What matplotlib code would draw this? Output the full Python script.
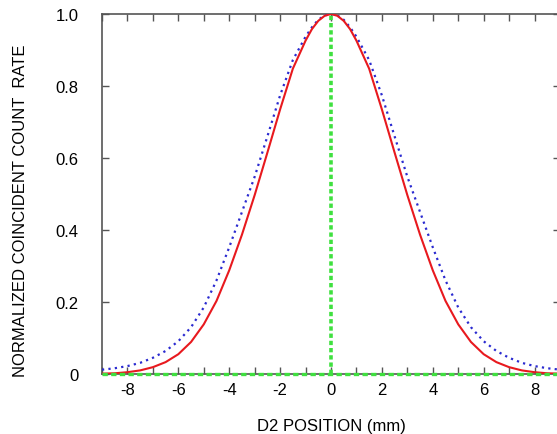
import matplotlib
matplotlib.use("Agg")
import matplotlib.pyplot as plt
from matplotlib.ticker import MultipleLocator

plt.rcParams["font.family"] = ["Liberation Sans", "DejaVu Sans"]

# D2 position (mm) and normalized coincidence rates
positions = [-9.0, -8.5, -8.0, -7.5, -7.0, -6.5, -6.0, -5.5, -5.0, -4.5,
             -4.0, -3.5, -3.0, -2.5, -2.0, -1.5, -1.0, -0.75, -0.5, -0.25,
             0.0, 0.25, 0.5, 0.75, 1.0, 1.5, 2.0, 2.5, 3.0, 3.5,
             4.0, 4.5, 5.0, 5.5, 6.0, 6.5, 7.0, 7.5, 8.0, 8.5, 9.0]
rate_red = [0.001, 0.002, 0.005, 0.010, 0.019, 0.033, 0.055, 0.089, 0.138, 0.203,
            0.288, 0.387, 0.497, 0.615, 0.735, 0.848, 0.926, 0.958, 0.981, 0.995,
            1.000, 0.995, 0.981, 0.958, 0.926, 0.848, 0.735, 0.615, 0.497, 0.387,
            0.288, 0.203, 0.138, 0.089, 0.055, 0.033, 0.019, 0.010, 0.005, 0.002, 0.001]
rate_blue = [0.012, 0.016, 0.022, 0.031, 0.045, 0.064, 0.091, 0.130, 0.185, 0.260,
             0.352, 0.450, 0.548, 0.660, 0.774, 0.872, 0.937, 0.963, 0.984, 0.996,
             1.000, 0.996, 0.984, 0.963, 0.937, 0.872, 0.774, 0.660, 0.548, 0.450,
             0.352, 0.260, 0.185, 0.130, 0.091, 0.064, 0.045, 0.031, 0.022, 0.016, 0.012]
center_x = [0.0, 0.0]
center_y = [0.0, 1.0]
base_x = [-9.0, 9.0]
base_y = [0.0, 0.0]

x_ticks = [-8, -6, -4, -2, 0, 2, 4, 6, 8]
y_ticks = [0, 0.2, 0.4, 0.6, 0.8, 1.0]
y_labels = ["0", "0.2", "0.4", "0.6", "0.8", "1.0"]

fig = plt.figure(figsize=(5.57, 4.35), dpi=100)
ax = fig.add_axes([102 / 557, 60 / 435, 458 / 557, 360 / 435])

ax.plot(positions, rate_blue, color="#2a2ad0", lw=1.6, ls=(0, (1, 1.9)), zorder=3)
ax.plot(positions, rate_red, color="#e8191e", lw=1.5, zorder=4)
ax.plot(center_x, center_y, color="#3fe03f", lw=2.6, ls=(0, (1.2, 0.8)),
        zorder=5, clip_on=False)
ax.plot(base_x, base_y, color="#3fe03f", lw=2.4, ls=(0, (1.6, 1.0)),
        zorder=5, clip_on=False)

ax.set_xlim(-9, 9)
ax.set_ylim(0, 1)
ax.set_xticks(x_ticks)
ax.set_xticklabels([str(t) for t in x_ticks])  # plain hyphen minus
ax.xaxis.set_minor_locator(MultipleLocator(1))
ax.set_yticks(y_ticks)
ax.set_yticklabels(y_labels)

spine_col = "#555555"
for s in ax.spines.values():
    s.set_color(spine_col)
    s.set_linewidth(1.2)

ax.tick_params(axis="both", which="both", direction="in", colors=spine_col,
               labelcolor="black", top=True, right=True, width=1.0)
ax.tick_params(axis="x", which="major", length=5, pad=6, labelsize=12)
ax.tick_params(axis="x", which="minor", length=5)
ax.tick_params(axis="y", which="major", length=5, pad=17, labelsize=12)

ax.set_xlabel("D2 POSITION (mm)", fontsize=12, labelpad=15)
ax.set_ylabel("NORMALIZED COINCIDENT COUNT  RATE", fontsize=12)
ax.yaxis.set_label_coords(-0.162, 0.455)

plt.savefig("out.png", dpi=100)
plt.close()
